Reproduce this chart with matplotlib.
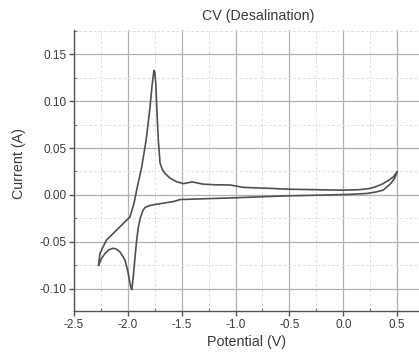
import numpy as np
import matplotlib
matplotlib.use("Agg")
import matplotlib.pyplot as plt
from matplotlib.ticker import MultipleLocator

# anodic sweep (upper branch), -2.27 V -> 0.5 V
fwd_v = [-2.272, -2.259, -2.228, -2.197, -2.135, -2.073, -2.020, -1.980, -1.943, -1.912,
         -1.871, -1.831, -1.810, -1.794, -1.775, -1.762, -1.757, -1.750, -1.740, -1.732,
         -1.717, -1.701, -1.680, -1.655, -1.610, -1.547, -1.485, -1.43, -1.40, -1.36,
         -1.30, -1.20, -1.05, -1.00, -0.93, -0.70, -0.495, -0.25, 0.0, 0.15,
         0.246, 0.31, 0.37, 0.42, 0.463, 0.494, 0.50]
fwd_i = [-0.075, -0.0626, -0.055, -0.048, -0.041, -0.034, -0.028, -0.0235, -0.009, 0.0085,
         0.030, 0.058, 0.078, 0.094, 0.117, 0.129, 0.133, 0.131, 0.118, 0.094,
         0.058, 0.034, 0.027, 0.023, 0.018, 0.014, 0.012, 0.0132, 0.0138, 0.0128,
         0.0114, 0.0108, 0.0105, 0.0095, 0.008, 0.007, 0.006, 0.0055, 0.005, 0.0055,
         0.0068, 0.009, 0.012, 0.0155, 0.019, 0.0235, 0.025]

# cathodic sweep (lower branch), 0.5 V -> -2.27 V
rev_v = [0.50, 0.478, 0.44, 0.40, 0.37, 0.30, 0.218, 0.06, -0.20, -0.495,
         -0.75, -1.02, -1.30, -1.516, -1.57, -1.65, -1.732, -1.800, -1.840, -1.857,
         -1.871, -1.887, -1.902, -1.918, -1.933, -1.948, -1.958, -1.964, -1.972, -1.984,
         -1.996, -2.010, -2.026, -2.050, -2.073, -2.105, -2.135, -2.175, -2.212, -2.245, -2.272]
rev_i = [0.025, 0.018, 0.012, 0.008, 0.005, 0.003, 0.0015, 0.0005, -0.0003, -0.001,
         -0.002, -0.0032, -0.0042, -0.005, -0.007, -0.0085, -0.010, -0.0115, -0.0135, -0.016,
         -0.020, -0.026, -0.034, -0.048, -0.066, -0.085, -0.096, -0.101, -0.099, -0.092,
         -0.084, -0.077, -0.070, -0.065, -0.061, -0.058, -0.057, -0.0585, -0.0626, -0.068, -0.075]

x_ticks = [-2.5, -2.0, -1.5, -1.0, -0.5, 0.0, 0.5]
y_ticks = [-0.10, -0.05, 0.00, 0.05, 0.10, 0.15]

plt.rcParams['font.family'] = ['Liberation Sans', 'DejaVu Sans']
txt = '#3a3a3a'

fig = plt.figure(figsize=(4.19, 3.56), dpi=100)
ax = fig.add_axes([74 / 419, 1 - 311 / 356, 345 / 419, 281 / 356])

ax.plot(fwd_v + rev_v, fwd_i + rev_i, color='#505050', lw=1.2)

ax.set_xlim(-2.5, 0.703)
ax.set_ylim(-0.124, 0.176)
ax.set_xticks(x_ticks)
ax.set_yticks(y_ticks)
ax.set_xticklabels(['%.1f' % v for v in x_ticks])
ax.set_yticklabels(['%.2f' % v for v in y_ticks])
ax.xaxis.set_minor_locator(MultipleLocator(0.25))
ax.yaxis.set_minor_locator(MultipleLocator(0.025))

ax.grid(which='major', color='#b0b0b0', lw=0.9)
ax.grid(which='minor', color='#e0e0e0', lw=0.7, ls=(0, (3, 2)))
ax.set_axisbelow(True)

for s in ['top', 'right']:
    ax.spines[s].set_visible(False)
for s in ['left', 'bottom']:
    ax.spines[s].set_color('#555555')
    ax.spines[s].set_linewidth(1.0)

ax.tick_params(which='major', direction='out', length=3.5, width=1.0, color='#555555',
               labelsize=8.5, labelcolor=txt, pad=2)
ax.tick_params(which='minor', direction='in', length=2.5, width=0.8, color='#777777')

ax.set_xlabel('Potential (V)', fontsize=10.3, color=txt, labelpad=3)
ax.set_ylabel('Current (A)', fontsize=10.3, color=txt)
ax.yaxis.set_label_coords(-0.14, 0.525)
ax.set_title('CV (Desalination)', fontsize=10.3, color=txt, x=(258 - 74) / 345, pad=7)

fig.savefig('out.png', dpi=100)
